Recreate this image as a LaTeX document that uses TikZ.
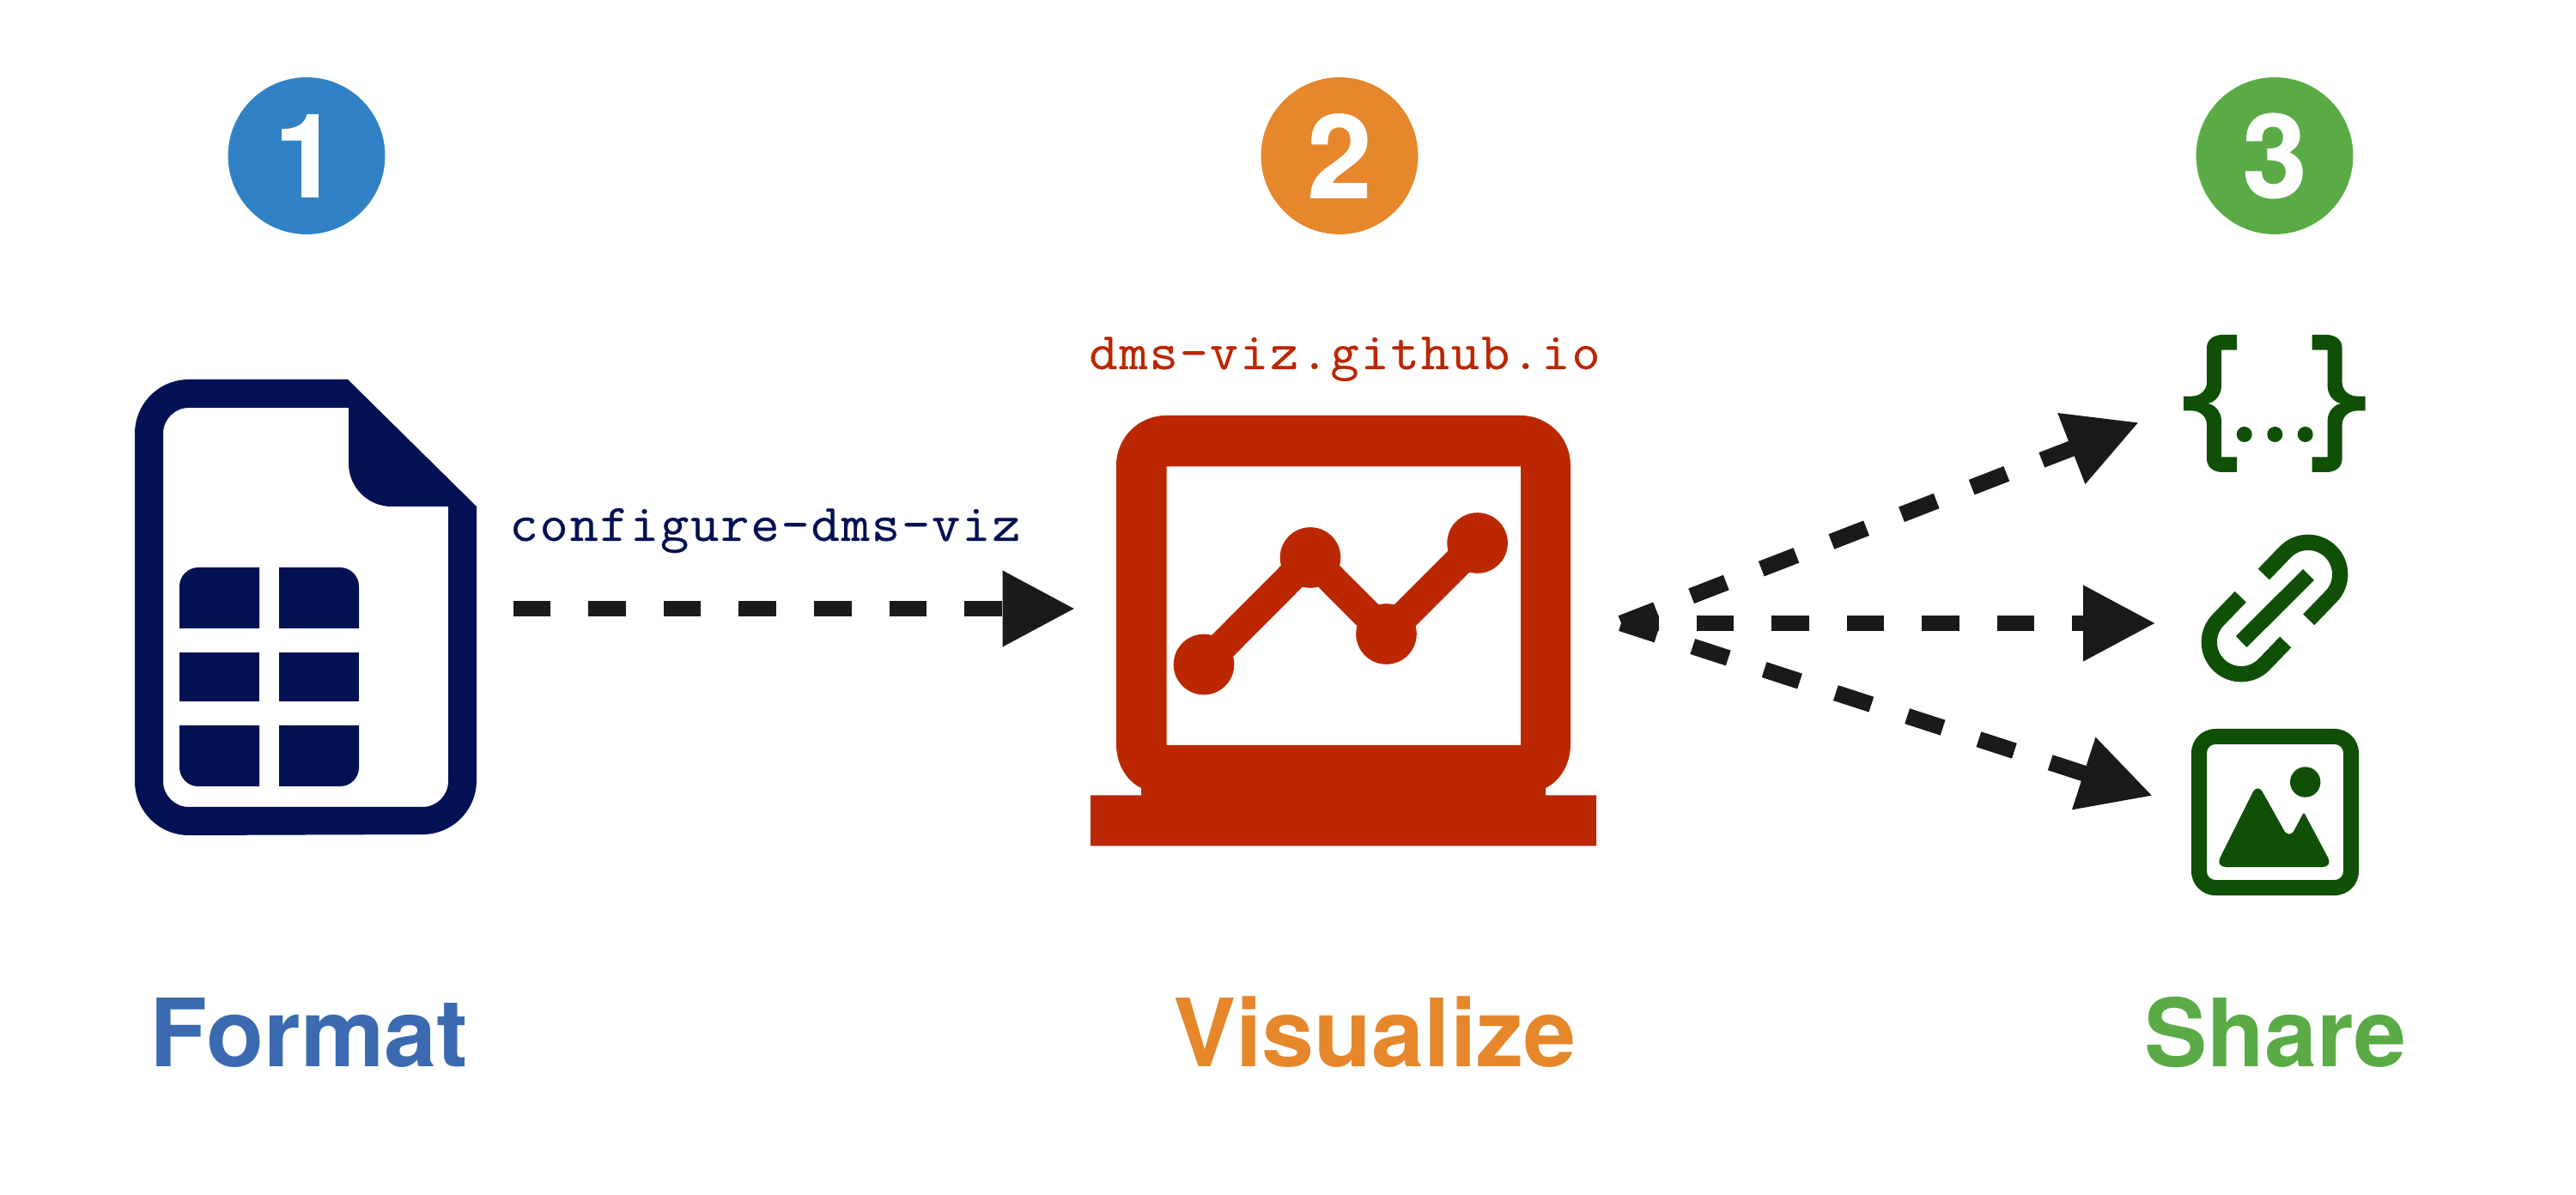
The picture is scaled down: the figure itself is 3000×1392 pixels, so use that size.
\documentclass[tikz,border=0pt]{standalone}
\usepackage{fontspec}
\setmainfont{TeX Gyre Heros}
\newfontfamily\cmdfont[FakeStretch=1.05,FakeBold=0.3,LetterSpace=3]{Latin Modern Mono}
\usetikzlibrary{arrows.meta}
\definecolor{navy}{HTML}{021153}
\definecolor{brick}{HTML}{BB2700}
\definecolor{forest}{HTML}{0F5006}
\definecolor{ink}{HTML}{1A1A1A}
\definecolor{cblue}{HTML}{3182C4}
\definecolor{corange}{HTML}{E6872B}
\definecolor{cgreen}{HTML}{5AAB46}
\definecolor{tblue}{HTML}{3B6AB0}
\tikzset{
  flow/.style={ink,line width=5.32pt,dash pattern=on 12.4pt off 12.5pt,-{Triangle[length=24pt,width=23.7pt,fill=ink]}},
  badge/.style={circle,inner sep=0pt,minimum size=52pt,text=white,font=\fontsize{38.5}{39}\selectfont\bfseries\addfontfeature{FakeBold=0.6}},
  steptitle/.style={anchor=base,inner sep=0pt,font=\fontsize{31.2}{32}\selectfont\bfseries},
  cmd/.style={anchor=base,inner sep=0pt,font=\fontsize{17.5}{18}\selectfont\cmdfont},
}
\begin{document}
\begin{tikzpicture}[x=0.01cm,y=-0.01cm]
\useasboundingbox (0,0) rectangle (3000,1392);
% badges
\node[badge,fill=cblue] (b1) at (357,181.5) {1};
\node[badge,fill=corange] (b2) at (1560,181.5) {2};
\node[badge,fill=cgreen] (b3) at (2649,181.5) {3};
% titles
\node[steptitle,text=tblue] (t1) at (360,1242) {Format};
\node[steptitle,text=corange] (t2) at (1601,1242) {Visualize};
\node[steptitle,text=cgreen] (t3) at (2650,1242) {Share};
% command labels
\node[cmd,text=navy] (c1) at (891,630) {configure-dms-viz};
\node[cmd,text=brick] (c2) at (1566,430) {dms-viz.github.io};
% file icon
\fill[navy,even odd rule]
  (157,505) arc[start angle=180,end angle=270,radius=63] -- (405,442) -- (555,590) -- (555,909)
  arc[start angle=0,end angle=90,radius=63] -- (220,973) arc[start angle=90,end angle=180,radius=63] -- cycle
  (190,505) arc[start angle=180,end angle=270,radius=30] -- (406,475) -- (406,540)
  arc[start angle=180,end angle=90,radius=50] -- (522,590) -- (522,910)
  arc[start angle=0,end angle=90,radius=30] -- (220,940) arc[start angle=90,end angle=180,radius=30] -- cycle;
\fill[navy] (209,732) -- (209,683) arc[start angle=180,end angle=270,radius=22] -- (302,661) -- (302,732) -- cycle;
\fill[navy] (325,732) -- (325,661) -- (396,661) arc[start angle=270,end angle=360,radius=22] -- (418,732) -- cycle;
\fill[navy] (209,760) rectangle (302,817);
\fill[navy] (325,760) rectangle (418,817);
\fill[navy] (209,845) -- (302,845) -- (302,916) -- (231,916) arc[start angle=90,end angle=180,radius=22] -- cycle;
\fill[navy] (325,845) -- (418,845) -- (418,894) arc[start angle=0,end angle=90,radius=22] -- (325,916) -- cycle;
% laptop icon
\fill[brick,even odd rule]
  (1300,542) arc[start angle=180,end angle=270,radius=58] -- (1771,484) arc[start angle=270,end angle=360,radius=58] -- (1829,867)
  .. controls (1829,889) and (1818,909) .. (1800,918) -- (1800,926.5) -- (1859,926.5) -- (1859,985.5) -- (1270,985.5) -- (1270,926.5) -- (1329,926.5) -- (1329,918)
  .. controls (1311,909) and (1300,889) .. (1300,867) -- cycle
  (1358.6,543.5) rectangle (1771,868);
\draw[brick,line width=10pt,line join=miter] (1402,774) -- (1526,649.5) -- (1614.5,738.5) -- (1720.6,632.5);
\fill[brick] (1402,774) circle[radius=35.3];
\fill[brick] (1526,649.5) circle[radius=35.3];
\fill[brick] (1614.5,738.5) circle[radius=35.3];
\fill[brick] (1720.6,632.5) circle[radius=35.3];
% braces icon
\fill[forest]
  (2605,390) -- (2588,390) .. controls (2578,390) and (2570,396) .. (2570,405) -- (2570,445)
  .. controls (2570,455) and (2562,461.6) .. (2552,461.6) -- (2543,461.6) -- (2543,478.4) -- (2552,478.4)
  .. controls (2562,478.4) and (2570,485) .. (2570,495) -- (2570,535)
  .. controls (2570,544) and (2578,550) .. (2588,550) -- (2605,550) -- (2605,532.4) -- (2587,532.4) -- (2587,490)
  .. controls (2587,479) and (2578,470) .. (2570,470) .. controls (2578,470) and (2587,461) .. (2587,450)
  -- (2587,407.6) -- (2605,407.6) -- cycle;
\fill[forest]
  (2692.6,390) -- (2709.6,390) .. controls (2719.6,390) and (2727.6,396) .. (2727.6,405) -- (2727.6,445)
  .. controls (2727.6,455) and (2735.6,461.6) .. (2745.6,461.6) -- (2754.6,461.6) -- (2754.6,478.4) -- (2745.6,478.4)
  .. controls (2735.6,478.4) and (2727.6,485) .. (2727.6,495) -- (2727.6,535)
  .. controls (2727.6,544) and (2719.6,550) .. (2709.6,550) -- (2692.6,550) -- (2692.6,532.4) -- (2710.6,532.4) -- (2710.6,490)
  .. controls (2710.6,479) and (2719.6,470) .. (2727.6,470) .. controls (2719.6,470) and (2710.6,461) .. (2710.6,450)
  -- (2710.6,407.6) -- (2692.6,407.6) -- cycle;
\fill[forest] (2613.7,506) circle[radius=9];
\fill[forest] (2649.3,506) circle[radius=9];
\fill[forest] (2684.7,506) circle[radius=9];
% link icon
\draw[forest,line width=5.2pt] (2688.5,669.5) -- (2610.2,747.5);
\draw[forest,line width=5.2pt] (2636.3,669) -- (2661.7,642.7) arc[start angle=225,end angle=405,radius=37.2] -- (2688.7,721.8);
\draw[forest,line width=5.2pt] (2661.7,748) -- (2636.3,774.3) arc[start angle=45,end angle=225,radius=37.2] -- (2609.3,695.2);
% image icon
\fill[forest,even odd rule]
  (2552,877) arc[start angle=180,end angle=270,radius=28] -- (2719,849) arc[start angle=270,end angle=360,radius=28] -- (2747,1015)
  arc[start angle=0,end angle=90,radius=28] -- (2580,1043) arc[start angle=90,end angle=180,radius=28] -- cycle
  (2570,877) arc[start angle=180,end angle=270,radius=10] -- (2719,867) arc[start angle=270,end angle=360,radius=10] -- (2729,1015)
  arc[start angle=0,end angle=90,radius=10] -- (2580,1025) arc[start angle=90,end angle=180,radius=10] -- cycle;
\fill[forest] (2684.7,911) circle[radius=17.7];
\fill[forest,rounded corners=3.5pt] (2580,1010) -- (2629,912) -- (2666,978) [rounded corners=0.5pt] -- (2683,946) [rounded corners=3.5pt] -- (2717,1010) -- cycle;
% connectors
\coordinate (from1) at (597.7,709);
\coordinate (to1) at (1252,709);
\coordinate (hub) at (1888,726);
\coordinate (toA) at (2491,492);
\coordinate (toB) at (2510.5,726);
\coordinate (toC) at (2507,927);
\draw[flow] (from1) -- (to1);
\draw[flow] (hub) -- (toA);
\draw[flow] (hub) -- (toB);
\draw[flow] (hub) -- (toC);
\end{tikzpicture}
\end{document}
